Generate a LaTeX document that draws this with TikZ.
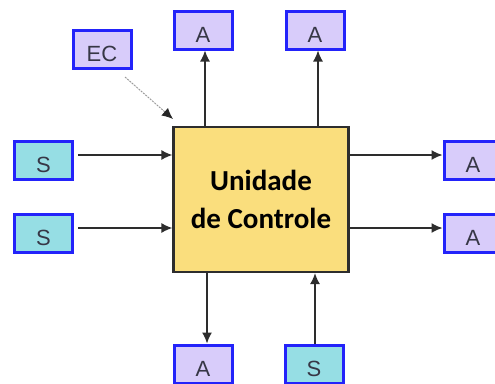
\documentclass[tikz,border=0pt]{standalone}
\usepackage{fontspec}
\setmainfont{Liberation Sans}
\newfontfamily\boldcal{Carlito}[BoldFont=Carlito Bold]
\usetikzlibrary{arrows.meta}
\definecolor{ucfill}{RGB}{250,222,125}
\definecolor{afill}{RGB}{216,204,250}
\definecolor{sfill}{RGB}{150,222,228}
\definecolor{boxblue}{RGB}{35,35,250}
\definecolor{labelgrey}{RGB}{55,55,70}
\definecolor{linegrey}{RGB}{45,45,45}
\tikzset{
  smallbox/.style={draw=boxblue, line width=3pt, minimum width=58pt, minimum height=38pt,
    inner sep=0pt, text=labelgrey, font=\fontsize{22}{22}\selectfont,
    text height=24pt, text depth=0pt},
  abox/.style={smallbox, fill=afill},
  sbox/.style={smallbox, fill=sfill},
  unit/.style={draw=linegrey, line width=2.2pt, fill=ucfill, minimum width=175pt, minimum height=145pt,
    inner sep=0pt, align=center, font=\boldcal\bfseries\fontsize{29}{38}\selectfont},
  link/.style={draw=linegrey, line width=1.4pt, -{Latex[length=11pt,width=10pt]}},
  hint/.style={draw=gray!80, line width=0.9pt, dash pattern=on 2pt off 1pt,
    -{Latex[length=11pt,width=10pt,color=black!85]}}
}
\begin{document}
\begin{tikzpicture}[x=1pt,y=-1pt]
  \clip (0,0) rectangle (495,383);
  \fill[white] (0,0) rectangle (495,383);

  % control unit
  \node[unit] (uc) at (261,199.5) {Unidade\\de Controle};

  % actuators and sensors
  \node[abox] (ec) at (102,49) {EC};
  \node[abox] (at1) at (203,30) {A};
  \node[abox] (at2) at (315,30) {A};
  \node[sbox] (s1) at (43.5,160.5) {S};
  \node[sbox] (s2) at (43.5,233) {S};
  \node[abox] (ar1) at (473,160) {A};
  \node[abox] (ar2) at (473,233) {A};
  \node[abox] (ab1) at (203,364) {A};
  \node[sbox] (sb1) at (314,364) {S};

  % connectors
  \draw[link] (uc.north -| 205,0) -- (at1.south -| 205,0);
  \draw[link] (uc.north -| 318,0) -- (at2.south -| 318,0);
  \draw[link] (s1.east |- 0,155) ++(4,0) -- (uc.west |- 0,155);
  \draw[link] (s2.east |- 0,228) ++(4,0) -- (uc.west |- 0,228);
  \draw[link] (uc.east |- 0,155) -- (ar1.west |- 0,155);
  \draw[link] (uc.east |- 0,228) -- (ar2.west |- 0,228);
  \draw[link] (uc.south -| 207,0) -- (ab1.north -| 207,0);
  \draw[link] (sb1.north -| 315,0) -- (uc.south -| 315,0);

  % external control hint
  \coordinate (ecfoot) at (125,77);
  \coordinate (uccorner) at (173,119);
  \draw[hint] (ecfoot) -- (uccorner);
\end{tikzpicture}
\end{document}
